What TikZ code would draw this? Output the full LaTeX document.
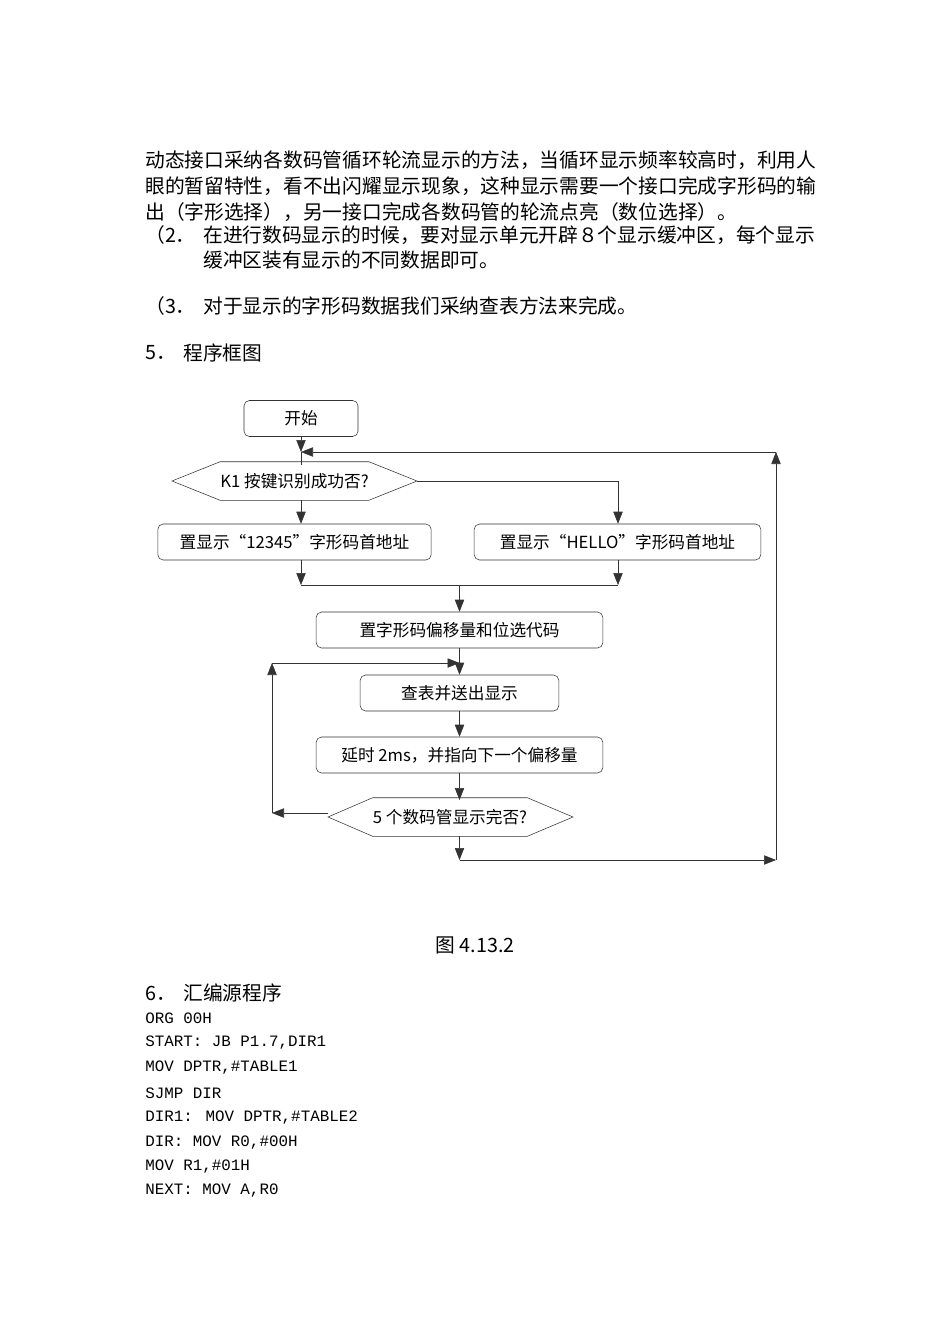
\documentclass[tikz,border=0pt]{standalone}
\usepackage{fontspec}
\setmainfont{Liberation Serif}
\newfontfamily\cjk{Noto Sans CJK SC}
\newfontfamily\mono{Liberation Mono}
\usetikzlibrary{positioning,arrows.meta}
\begin{document}
\begin{tikzpicture}[x=0.75pt,y=-0.75pt]
	\tikzstyle{body}=[anchor=west, inner sep=0pt, font=\cjk\fontsize{14.8}{16}\selectfont]
	\tikzstyle{code}=[anchor=west, inner sep=0pt, font=\mono\fontsize{11.9}{13}\selectfont]
	\tikzstyle{box}=[rectangle, rounded corners=4pt, draw=black!80, font=\cjk\fontsize{12.5}{14}\selectfont, minimum height=27pt]
	\tikzstyle{test}=[rectangle, inner sep=0pt, font=\cjk\fontsize{12.5}{14}\selectfont, minimum height=28.5pt]
	\tikzstyle{connect}=[-{Triangle[length=9pt,width=7pt]}, draw=black!80]
	\tikzstyle{line}=[draw=black!80]
	\useasboundingbox[fill=white] (0,0) rectangle (950,1344);
	% text above
	\node[body] (p1) at (145,160) {动态接口采纳各数码管循环轮流显示的方法，当循环显示频率较高时，利用人};
	\node[body] (p2) at (145,186) {眼的暂留特性，看不出闪耀显示现象，这种显示需要一个接口完成字形码的输};
	\node[body] (p3) at (145,212) {出（字形选择），另一接口完成各数码管的轮流点亮（数位选择）。};
	\node[body] (n2) at (145,235) {（2．};
	\node[body] (p4) at (203,235) {在进行数码显示的时候，要对显示单元开辟８个显示缓冲区，每个显示};
	\node[body] (p5) at (203,260) {缓冲区装有显示的不同数据即可。};
	\node[body] (n3) at (145,306) {（3．};
	\node[body] (p6) at (203,306) {对于显示的字形码数据我们采纳查表方法来完成。};
	\node[body] (n5) at (145,353) {5．};
	\node[body] (h5) at (183,353) {程序框图};
	% flow chart
	\node[box, minimum width=85.5pt] (start) at (301,418.5) {开始};
	\node[test, minimum width=94pt] (k1) at (294.5,481) {K1 按键识别成功否?};
	\draw[line] (k1.north west) -- (k1.north east) -- (417,481) -- (k1.south east) -- (k1.south west) -- (172,481) -- cycle;
	\node[box, minimum width=205pt] (adr1) at (294.5,542) {置显示“12345”字形码首地址};
	\node[box, minimum width=215pt] (adr2) at (617.5,542) {置显示“HELLO”字形码首地址};
	\node[box, minimum width=215pt] (offs) at (459.5,630) {置字形码偏移量和位选代码};
	\node[box, minimum width=149pt] (look) at (459.5,693) {查表并送出显示};
	\node[box, minimum width=215pt] (wait) at (459.5,755) {延时 2ms，并指向下一个偏移量};
	\node[test, minimum width=93pt] (done) at (450,817) {5 个数码管显示完否?};
	\draw[line] (done.north west) -- (done.north east) -- (573,817) -- (done.south east) -- (done.south west) -- (328,817) -- cycle;
	\node at (475,945) [font=\cjk\fontsize{14.8}{16}\selectfont] (cap) {图 4.13.2};
	% helper points
	\coordinate (top) at (301,452);
	\coordinate (kr) at (417,481);
	\coordinate (kc) at (618,481);
	\coordinate (ml) at (301,585);
	\coordinate (mm) at (459.5,585);
	\coordinate (mr) at (618,585);
	\coordinate (lp) at (459.5,663);
	\coordinate (lc) at (272,663);
	\coordinate (lb) at (272,813);
	\coordinate (dl) at (328,813);
	\coordinate (bt) at (459.5,860);
	\coordinate (rb) at (776,860);
	\coordinate (rt) at (776,452);
	% connectors
	\path (start) edge [connect] (top);
	\draw[line] (top) -- (301,465);
	\path (301,500) edge [connect] (adr1.north -| top);
	\draw[line] (kr) -- (kc);
	\path (kc) edge [connect] (adr2.north -| kc);
	\path (adr1.south -| ml) edge [connect] (ml);
	\path (adr2.south -| mr) edge [connect] (mr);
	\draw[line] (ml) -- (mr);
	\path (mm) edge [connect] (offs);
	\path (offs) edge [connect] (look);
	\path (look) edge [connect] (wait);
	\path (wait) edge [connect] (459.5,800);
	\path (dl) edge [connect] (lb);
	\path (lb) edge [connect] (lc);
	\path (lc) edge [connect] (lp);
	\path (459.5,836) edge [connect] (bt);
	\path (bt) edge [connect] (rb);
	\path (rb) edge [connect] (rt);
	\path (rt) edge [connect] (top);
	% program
	\node[body] (h6n) at (145,993) {6．};
	\node[body] (h6) at (183,993) {汇编源程序};
	\node[code] (c1) at (145,1018) {ORG 00H};
	\node[code] (c2) at (145,1043) {START: JB P1.7,DIR1};
	\node[code] (c3) at (145,1068) {MOV DPTR,\#TABLE1};
	\node[code] (c4) at (145,1093) {SJMP DIR};
	\node[code] (c5) at (145,1118) {DIR1: MOV DPTR,\#TABLE2};
	\node[code] (c6) at (145,1143) {DIR: MOV R0,\#00H};
	\node[code] (c7) at (145,1167) {MOV R1,\#01H};
	\node[code] (c8) at (145,1191) {NEXT: MOV A,R0};
\end{tikzpicture}
\end{document}
